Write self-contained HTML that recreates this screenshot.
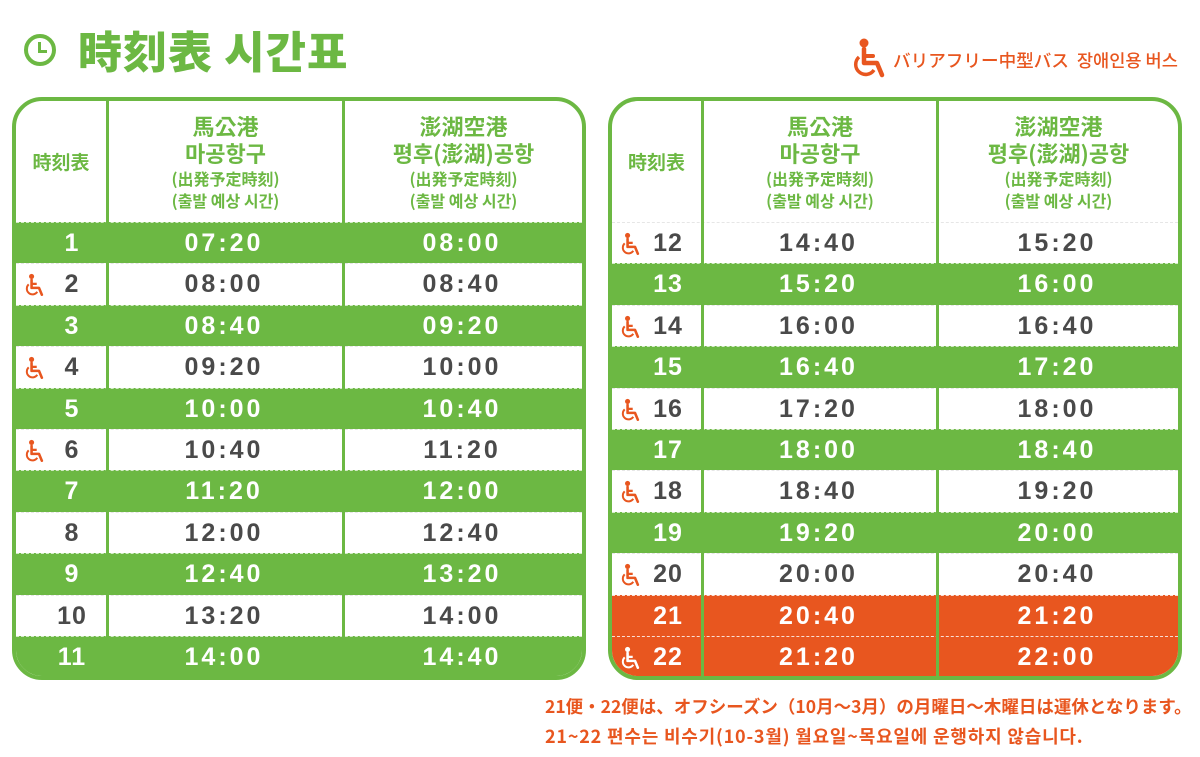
<!DOCTYPE html>
<html><head><meta charset="utf-8">
<style>
*{margin:0;padding:0;box-sizing:border-box}
body{width:1200px;height:757px;background:#fff;position:relative;overflow:hidden;font-family:"Liberation Sans","Noto Sans CJK JP",sans-serif}
.title{position:absolute;left:78px;top:19px;font-size:44px;font-weight:900;color:#6cb843;font-family:"Noto Sans CJK KR","Noto Sans CJK JP",sans-serif;letter-spacing:1px;line-height:60px}
.clock{position:absolute;left:24px;top:34px;width:32px;height:32px;border:4px solid #6cb843;border-radius:50%}
.clock:before{content:"";position:absolute;left:10px;top:4px;width:3px;height:10px;background:#6cb843}
.clock:after{content:"";position:absolute;left:10px;top:12px;width:9px;height:3px;background:#6cb843}
.legend{position:absolute;left:893px;top:48px;font-size:17.6px;color:#e8561f;font-family:"Noto Sans CJK JP",sans-serif;line-height:26px;font-weight:500}
.tbl{position:absolute;top:97px;width:574px;height:583px;border:4px solid #6cb843;border-radius:30px;overflow:hidden;background:#fff}
.vl{position:absolute;top:0;bottom:0;width:3px;background:#6cb843;z-index:3}
.hdr{position:absolute;top:0;height:121px;display:flex;flex-direction:column;justify-content:center;align-items:center;color:#6cb843;font-weight:700;font-family:"Noto Sans CJK KR","Noto Sans CJK JP",sans-serif;text-align:center}
.hdr .b{font-size:22px;line-height:27px}
.hdr .s{font-size:16px;line-height:22px}
.row{position:absolute;left:0;width:566px;height:41.4px;font-weight:700;font-size:25px;color:#4a4a4a;letter-spacing:3px;border-top:1px dashed #e6e6e6}
.g{background:#6cb843;color:#fff;border-top:1px dashed rgba(255,255,255,.7)}
.o{background:#e8561f;color:#fff;border-top:1px dashed rgba(255,255,255,.8)}
.row span{position:absolute;top:0;line-height:41px;text-align:center}
.n{left:28px;width:56px;letter-spacing:1px}
.t1{left:90px;width:236px}
.t2{left:326px;width:240px}
.row svg{position:absolute;left:8px;top:9px}
.note{position:absolute;font-size:17.5px;color:#e8561f;font-weight:700;font-family:"Noto Sans CJK JP","Noto Sans CJK KR",sans-serif;line-height:24px}
</style></head><body>
<div class="clock"></div>
<div class="title">時刻表 시간표</div>
<svg style="position:absolute;left:852px;top:37px" width="36" height="42" viewBox="0 0 36 42"><circle cx="12" cy="6" r="4.5" fill="#e8561f"/><path d="M12 12 V26 H25 L30 38" stroke="#e8561f" stroke-width="4.5" fill="none" stroke-linecap="round" stroke-linejoin="round"/><path d="M12 19 H21" stroke="#e8561f" stroke-width="4" stroke-linecap="round"/><path d="M7 20 A10 10 0 1 0 22 33" stroke="#e8561f" stroke-width="3.5" fill="none"/></svg>
<div class="legend">バリアフリー中型バス&nbsp; 장애인용 버스</div>

<!-- LEFT TABLE -->
<div class="tbl" style="left:12px">
<div class="vl" style="left:90px"></div><div class="vl" style="left:326px"></div>
<div class="hdr" style="left:0;width:90px"><div class="b" style="font-size:19px">時刻表</div></div>
<div class="hdr" style="left:93px;width:233px"><div class="b">馬公港</div><div class="b">마공항구</div><div class="s">(出発予定時刻)</div><div class="s">(출발 예상 시간)</div></div>
<div class="hdr" style="left:329px;width:237px"><div class="b">澎湖空港</div><div class="b">평후(澎湖)공항</div><div class="s">(出発予定時刻)</div><div class="s">(출발 예상 시간)</div></div>
<div class="row g" style="top:121px"><span class="n">1</span><span class="t1">07:20</span><span class="t2">08:00</span></div>
<div class="row" style="top:162.4px"><svg width="22" height="24" viewBox="0 0 36 42"><circle cx="12" cy="6" r="4.5" fill="#e8561f"/><path d="M12 12 V26 H25 L30 38" stroke="#e8561f" stroke-width="4.5" fill="none" stroke-linecap="round" stroke-linejoin="round"/><path d="M12 19 H21" stroke="#e8561f" stroke-width="4"/><path d="M7 20 A10 10 0 1 0 22 33" stroke="#e8561f" stroke-width="3.5" fill="none"/></svg><span class="n">2</span><span class="t1">08:00</span><span class="t2">08:40</span></div>
<div class="row g" style="top:203.8px"><span class="n">3</span><span class="t1">08:40</span><span class="t2">09:20</span></div>
<div class="row" style="top:245.2px"><svg width="22" height="24" viewBox="0 0 36 42"><circle cx="12" cy="6" r="4.5" fill="#e8561f"/><path d="M12 12 V26 H25 L30 38" stroke="#e8561f" stroke-width="4.5" fill="none" stroke-linecap="round" stroke-linejoin="round"/><path d="M12 19 H21" stroke="#e8561f" stroke-width="4"/><path d="M7 20 A10 10 0 1 0 22 33" stroke="#e8561f" stroke-width="3.5" fill="none"/></svg><span class="n">4</span><span class="t1">09:20</span><span class="t2">10:00</span></div>
<div class="row g" style="top:286.6px"><span class="n">5</span><span class="t1">10:00</span><span class="t2">10:40</span></div>
<div class="row" style="top:328px"><svg width="22" height="24" viewBox="0 0 36 42"><circle cx="12" cy="6" r="4.5" fill="#e8561f"/><path d="M12 12 V26 H25 L30 38" stroke="#e8561f" stroke-width="4.5" fill="none" stroke-linecap="round" stroke-linejoin="round"/><path d="M12 19 H21" stroke="#e8561f" stroke-width="4"/><path d="M7 20 A10 10 0 1 0 22 33" stroke="#e8561f" stroke-width="3.5" fill="none"/></svg><span class="n">6</span><span class="t1">10:40</span><span class="t2">11:20</span></div>
<div class="row g" style="top:369.4px"><span class="n">7</span><span class="t1">11:20</span><span class="t2">12:00</span></div>
<div class="row" style="top:410.8px"><span class="n">8</span><span class="t1">12:00</span><span class="t2">12:40</span></div>
<div class="row g" style="top:452.2px"><span class="n">9</span><span class="t1">12:40</span><span class="t2">13:20</span></div>
<div class="row" style="top:493.6px"><span class="n">10</span><span class="t1">13:20</span><span class="t2">14:00</span></div>
<div class="row g" style="top:535px;height:45px"><span class="n">11</span><span class="t1">14:00</span><span class="t2">14:40</span></div>
</div>

<!-- RIGHT TABLE -->
<div class="tbl" style="left:608px">
<div class="vl" style="left:89px"></div><div class="vl" style="left:324px"></div>
<div class="hdr" style="left:0;width:89px"><div class="b" style="font-size:19px">時刻表</div></div>
<div class="hdr" style="left:92px;width:232px"><div class="b">馬公港</div><div class="b">마공항구</div><div class="s">(出発予定時刻)</div><div class="s">(출발 예상 시간)</div></div>
<div class="hdr" style="left:327px;width:239px"><div class="b">澎湖空港</div><div class="b">평후(澎湖)공항</div><div class="s">(出発予定時刻)</div><div class="s">(출발 예상 시간)</div></div>
<div class="row" style="top:121px"><svg width="22" height="24" viewBox="0 0 36 42"><circle cx="12" cy="6" r="4.5" fill="#e8561f"/><path d="M12 12 V26 H25 L30 38" stroke="#e8561f" stroke-width="4.5" fill="none" stroke-linecap="round" stroke-linejoin="round"/><path d="M12 19 H21" stroke="#e8561f" stroke-width="4"/><path d="M7 20 A10 10 0 1 0 22 33" stroke="#e8561f" stroke-width="3.5" fill="none"/></svg><span class="n">12</span><span class="t1" style="left:89px;width:235px">14:40</span><span class="t2" style="left:324px;width:242px">15:20</span></div>
<div class="row g" style="top:162.4px"><span class="n">13</span><span class="t1" style="left:89px;width:235px">15:20</span><span class="t2" style="left:324px;width:242px">16:00</span></div>
<div class="row" style="top:203.8px"><svg width="22" height="24" viewBox="0 0 36 42"><circle cx="12" cy="6" r="4.5" fill="#e8561f"/><path d="M12 12 V26 H25 L30 38" stroke="#e8561f" stroke-width="4.5" fill="none" stroke-linecap="round" stroke-linejoin="round"/><path d="M12 19 H21" stroke="#e8561f" stroke-width="4"/><path d="M7 20 A10 10 0 1 0 22 33" stroke="#e8561f" stroke-width="3.5" fill="none"/></svg><span class="n">14</span><span class="t1" style="left:89px;width:235px">16:00</span><span class="t2" style="left:324px;width:242px">16:40</span></div>
<div class="row g" style="top:245.2px"><span class="n">15</span><span class="t1" style="left:89px;width:235px">16:40</span><span class="t2" style="left:324px;width:242px">17:20</span></div>
<div class="row" style="top:286.6px"><svg width="22" height="24" viewBox="0 0 36 42"><circle cx="12" cy="6" r="4.5" fill="#e8561f"/><path d="M12 12 V26 H25 L30 38" stroke="#e8561f" stroke-width="4.5" fill="none" stroke-linecap="round" stroke-linejoin="round"/><path d="M12 19 H21" stroke="#e8561f" stroke-width="4"/><path d="M7 20 A10 10 0 1 0 22 33" stroke="#e8561f" stroke-width="3.5" fill="none"/></svg><span class="n">16</span><span class="t1" style="left:89px;width:235px">17:20</span><span class="t2" style="left:324px;width:242px">18:00</span></div>
<div class="row g" style="top:328px"><span class="n">17</span><span class="t1" style="left:89px;width:235px">18:00</span><span class="t2" style="left:324px;width:242px">18:40</span></div>
<div class="row" style="top:369.4px"><svg width="22" height="24" viewBox="0 0 36 42"><circle cx="12" cy="6" r="4.5" fill="#e8561f"/><path d="M12 12 V26 H25 L30 38" stroke="#e8561f" stroke-width="4.5" fill="none" stroke-linecap="round" stroke-linejoin="round"/><path d="M12 19 H21" stroke="#e8561f" stroke-width="4"/><path d="M7 20 A10 10 0 1 0 22 33" stroke="#e8561f" stroke-width="3.5" fill="none"/></svg><span class="n">18</span><span class="t1" style="left:89px;width:235px">18:40</span><span class="t2" style="left:324px;width:242px">19:20</span></div>
<div class="row g" style="top:410.8px"><span class="n">19</span><span class="t1" style="left:89px;width:235px">19:20</span><span class="t2" style="left:324px;width:242px">20:00</span></div>
<div class="row" style="top:452.2px"><svg width="22" height="24" viewBox="0 0 36 42"><circle cx="12" cy="6" r="4.5" fill="#e8561f"/><path d="M12 12 V26 H25 L30 38" stroke="#e8561f" stroke-width="4.5" fill="none" stroke-linecap="round" stroke-linejoin="round"/><path d="M12 19 H21" stroke="#e8561f" stroke-width="4"/><path d="M7 20 A10 10 0 1 0 22 33" stroke="#e8561f" stroke-width="3.5" fill="none"/></svg><span class="n">20</span><span class="t1" style="left:89px;width:235px">20:00</span><span class="t2" style="left:324px;width:242px">20:40</span></div>
<div class="row o" style="top:493.6px"><span class="n">21</span><span class="t1" style="left:89px;width:235px">20:40</span><span class="t2" style="left:324px;width:242px">21:20</span></div>
<div class="row o" style="top:535px;height:45px"><svg width="22" height="24" viewBox="0 0 36 42"><circle cx="12" cy="6" r="4.5" fill="#fff"/><path d="M12 12 V26 H25 L30 38" stroke="#fff" stroke-width="4.5" fill="none" stroke-linecap="round" stroke-linejoin="round"/><path d="M12 19 H21" stroke="#fff" stroke-width="4"/><path d="M7 20 A10 10 0 1 0 22 33" stroke="#fff" stroke-width="3.5" fill="none"/></svg><span class="n">22</span><span class="t1" style="left:89px;width:235px">21:20</span><span class="t2" style="left:324px;width:242px">22:00</span></div>
</div>

<div class="note" style="left:545px;top:695px;white-space:nowrap;letter-spacing:0px">21便・22便は、オフシーズン（10月～3月）の月曜日～木曜日は運休となります。</div>
<div class="note" style="left:545px;top:724px;white-space:nowrap;font-family:'Noto Sans CJK KR',sans-serif;font-size:18px;letter-spacing:0.8px">21~22 편수는 비수기(10-3월) 월요일~목요일에 운행하지 않습니다.</div>
</body></html>
